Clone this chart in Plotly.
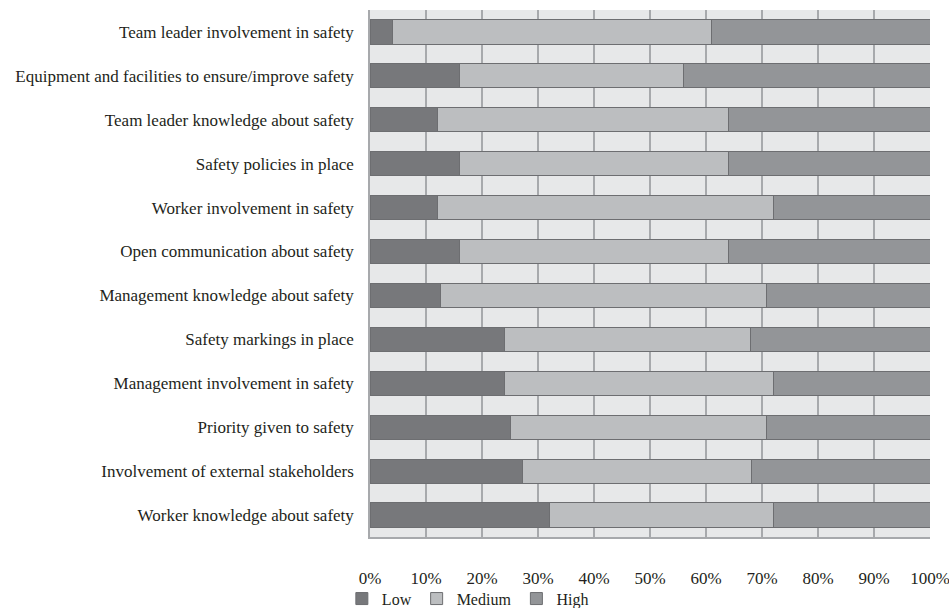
import plotly.graph_objects as go

categories = [
    "Team leader involvement in safety",
    "Equipment and facilities to ensure/improve safety",
    "Team leader knowledge about safety",
    "Safety policies in place",
    "Worker involvement in safety",
    "Open communication about safety",
    "Management knowledge about safety",
    "Safety markings in place",
    "Management involvement in safety",
    "Priority given to safety",
    "Involvement of external stakeholders",
    "Worker knowledge about safety",
]
low = [4, 16, 12, 16, 12, 16, 12.5, 24, 24, 25, 27.3, 32]
medium = [57, 40, 52, 48, 60, 48, 58.3, 44, 48, 45.8, 40.9, 40]
high = [39, 44, 36, 36, 28, 36, 29.2, 32, 28, 29.2, 31.8, 28]
series_names = ["Low", "Medium", "High"]
series_colors = ["#77787b", "#bcbec0", "#939598"]
x_ticks = list(range(0, 101, 10))
x_tick_labels = [f"{v}%" for v in x_ticks]

fig = go.Figure()
for name, vals, col in zip(series_names, [low, medium, high], series_colors):
    fig.add_trace(go.Bar(
        y=categories, x=vals, name=name, orientation="h",
        marker=dict(color=col, line=dict(color="#6d6e71", width=1)),
    ))

fig.update_layout(
    width=949, height=608,
    barmode="stack", bargap=0.45,
    plot_bgcolor="#e7e8e9", paper_bgcolor="white",
    margin=dict(l=370, r=19, t=10, b=71, autoexpand=False),
    font=dict(family="Liberation Serif, Times New Roman, serif", size=17, color="#231f20"),
    showlegend=True,
    legend=dict(orientation="h", xref="container", yref="paper",
                x=0.493, xanchor="center", y=-0.117, yanchor="middle",
                font=dict(size=16), traceorder="normal",
                bgcolor="rgba(0,0,0,0)",
                tracegroupgap=0, itemwidth=30),
)
fig.update_xaxes(
    range=[0, 100], tickvals=x_ticks, ticktext=x_tick_labels,
    tickfont=dict(size=17),
    showgrid=True, gridcolor="#a7a9ac", gridwidth=1.5,
    showline=True, linecolor="#a7a9ac", linewidth=1.5,
    ticks="outside", ticklen=25, tickcolor="rgba(0,0,0,0)",
    ticklabeloverflow="allow",
    zeroline=False, mirror=False,
)
fig.update_yaxes(
    categoryorder="array", categoryarray=categories, autorange="reversed",
    showgrid=False, showline=True, linecolor="#a7a9ac", linewidth=1.5,
    ticks="outside", ticklen=11, tickcolor="rgba(0,0,0,0)",
)

# remove the default page margin so the 949x608 figure fills the window exactly
fig.write_html(
    "out.html",
    config={"displayModeBar": False},
    post_script="document.body.style.margin='0';document.body.style.overflow='hidden';",
)
